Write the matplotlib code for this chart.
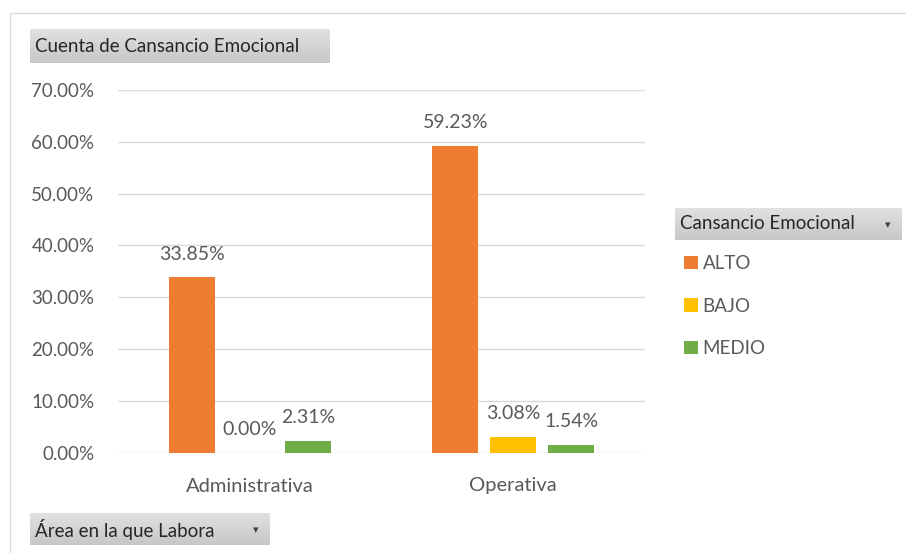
import numpy as np
import matplotlib.pyplot as plt
from matplotlib.patches import Rectangle

# datos del grafico dinamico
areas = ['Administrativa', 'Operativa']
niveles = ['ALTO', 'BAJO', 'MEDIO']
alto = [33.85, 59.23]
bajo = [0.00, 3.08]
medio = [2.31, 1.54]
yticks = [0, 10, 20, 30, 40, 50, 60, 70]

colores = ['#ED7D31', '#FFC000', '#70AD47']
gris = '#595959'
W, H = 906, 553

plt.rcParams['font.family'] = ['Lato', 'DejaVu Sans']


def px(x, y, w, h):
    # rectangulo en pixeles (desde arriba) -> coordenadas de figura
    return [x / W, 1 - (y + h) / H, w / W, h / H]


def boton(fig, x, y, w, h, texto, flecha=False, size=13.5):
    bx = fig.add_axes(px(x, y, w, h))
    grad = np.linspace(0.88, 0.78, 50).reshape(-1, 1)
    bx.imshow(grad, cmap='gray', vmin=0, vmax=1, aspect='auto',
              extent=[0, 1, 0, 1])
    bx.set_xlim(0, 1)
    bx.set_ylim(0, 1)
    bx.axis('off')
    bx.text(5 / w, 0.5, texto, fontsize=size, color='#262626',
            va='center', ha='left')
    if flecha:
        bx.text(1 - 14 / w, 0.45, '▾', fontsize=8, color='#404040',
                va='center', ha='center', family=['DejaVu Sans'])


fig = plt.figure(figsize=(W / 100, H / 100), dpi=100)

# borde del area del grafico
fig.patches.append(Rectangle((10 / W, -0.1), 1.2, 1 - 13 / H + 0.1,
                             transform=fig.transFigure, fill=False,
                             edgecolor='#d9d9d9', lw=1))

ax = fig.add_axes(px(118, 90, 527, 362.5))
x = np.arange(len(areas))
ancho = 0.175
paso = 0.22
series = [alto, bajo, medio]
barras = []
for i, (nombre, vals) in enumerate(zip(niveles, series)):
    b = ax.bar(x + (i - 1) * paso, vals, ancho, color=colores[i],
               label=nombre, zorder=3)
    barras.append(b)
    for xi, v in zip(x + (i - 1) * paso, vals):
        ax.annotate('{:.2f}%'.format(v), (xi, v), xytext=(0, 16.5),
                    textcoords='offset points', ha='center', va='center',
                    fontsize=14, color=gris)

ax.set_xlim(-0.5, 1.5)
ax.set_ylim(0, 70)
ax.set_yticks(yticks)
ax.set_yticklabels(['{:.2f}%'.format(t) for t in yticks])
ax.set_xticks(x)
ax.set_xticklabels(areas)
ax.tick_params(axis='both', length=0, colors=gris)
ax.tick_params(axis='y', pad=17, labelsize=13.5)
ax.tick_params(axis='x', pad=18, labelsize=14.5)
ax.grid(axis='y', color='#d9d9d9', lw=1, zorder=0)
for s in ax.spines.values():
    s.set_visible(False)

ax.legend(handles=barras, loc='upper left',
          bbox_to_anchor=(684 / W, 1 - 255 / H), bbox_transform=fig.transFigure,
          frameon=False, fontsize=13.5, labelcolor=gris, handlelength=0.75,
          handleheight=0.75, handletextpad=0.25, labelspacing=1.36,
          borderpad=0, borderaxespad=0)

boton(fig, 30, 29, 300, 34, 'Cuenta de Cansancio Emocional')
boton(fig, 675, 208, 227, 32, 'Cansancio Emocional', flecha=True)
boton(fig, 30, 513, 240, 32, 'Área en la que Labora', flecha=True)

fig.savefig('out.png', dpi=100)
